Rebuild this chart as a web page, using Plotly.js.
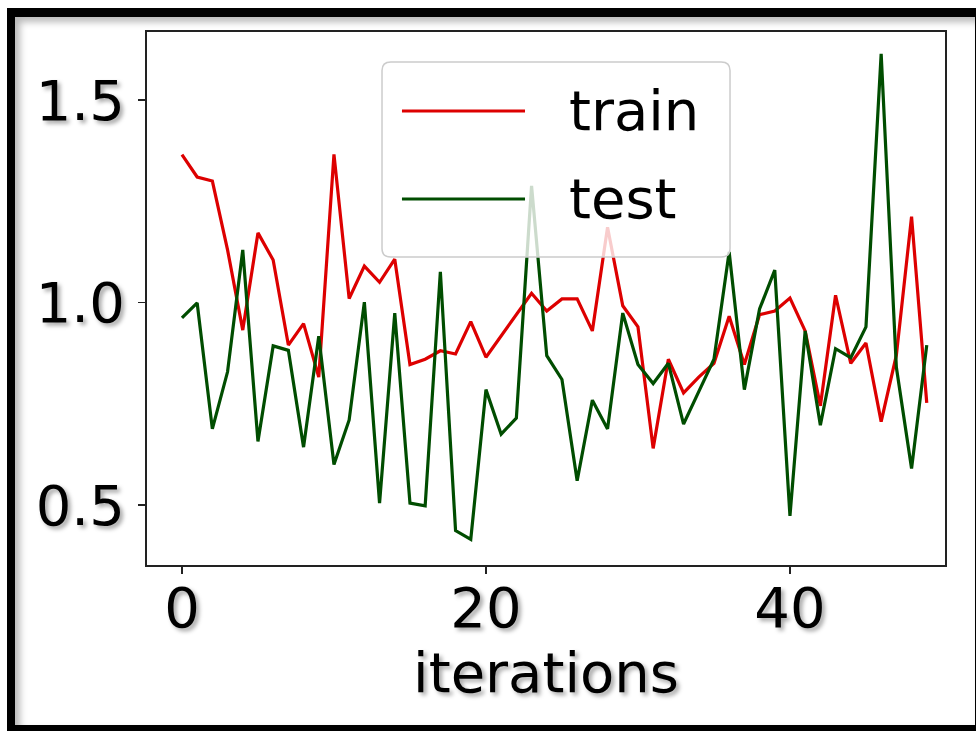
<!DOCTYPE html>
<html>
<head>
<meta charset="utf-8">
<script src="https://cdn.plot.ly/plotly-3.0.1.min.js"></script>
<style>
  html, body { margin: 0; padding: 0; background: #ffffff; }
  #chart { position: absolute; left: 0; top: 0; width: 976px; height: 731px; }
  #frame {
    position: absolute; left: 7px; top: 8px; width: 960px; height: 708px;
    border-style: solid; border-color: #000;
    border-width: 9px 9px 6px 8px;
    box-shadow: inset 5px 5px 7px rgba(0,0,0,0.28);
    pointer-events: none;
  }
</style>
</head>
<body>
<div id="chart"></div>
<div id="frame"></div>
<script>
const iterations = Array.from({length: 50}, (_, i) => i);
const trainLoss = [1.365, 1.31, 1.30, 1.13, 0.932, 1.172, 1.105, 0.895, 0.948, 0.816,
                   1.366, 1.01, 1.09, 1.05, 1.107, 0.847, 0.86, 0.881, 0.873, 0.953,
                   0.865, 0.918, 0.972, 1.023, 0.979, 1.009, 1.009, 0.93, 1.186, 0.992,
                   0.94, 0.64, 0.86, 0.777, 0.816, 0.85, 0.966, 0.847, 0.97, 0.979,
                   1.011, 0.93, 0.745, 1.018, 0.85, 0.90, 0.706, 0.87, 1.212, 0.752];
const testLoss = [0.962, 0.999, 0.688, 0.829, 1.13, 0.657, 0.893, 0.882, 0.643, 0.917,
                  0.60, 0.71, 1.001, 0.505, 0.974, 0.505, 0.498, 1.076, 0.437, 0.415,
                  0.785, 0.675, 0.715, 1.288, 0.869, 0.81, 0.56, 0.759, 0.688, 0.974,
                  0.847, 0.80, 0.85, 0.70, 0.78, 0.86, 1.125, 0.785, 0.984, 1.08,
                  0.473, 0.93, 0.697, 0.886, 0.864, 0.94, 1.614, 0.84, 0.59, 0.895];
const seriesNames = ['train', 'test'];
const seriesColors = ['#dd0000', '#004d00'];
const xTicks = [0, 20, 40];
const yTicks = [0.5, 1.0, 1.5];
const yTickLabels = ['0.5', '1.0', '1.5'];

const FONT = 'DejaVu Sans, sans-serif';
const SHADOW = '3px 3px 4px rgba(0,0,0,0.35)';

const traces = [
  {x: iterations, y: trainLoss, name: seriesNames[0], type: 'scatter', mode: 'lines',
   line: {color: seriesColors[0], width: 3.2}},
  {x: iterations, y: testLoss, name: seriesNames[1], type: 'scatter', mode: 'lines',
   line: {color: seriesColors[1], width: 3.2}}
];

// legend box (paper coordinates)
const bx0 = 0.2945, bx1 = 0.7306, by0 = 0.5779, by1 = 0.9437, rx = 0.011, ry = 0.016;
const boxPath = `M ${bx0+rx},${by0} L ${bx1-rx},${by0} Q ${bx1},${by0} ${bx1},${by0+ry} ` +
  `L ${bx1},${by1-ry} Q ${bx1},${by1} ${bx1-rx},${by1} L ${bx0+rx},${by1} ` +
  `Q ${bx0},${by1} ${bx0},${by1-ry} L ${bx0},${by0+ry} Q ${bx0},${by0} ${bx0+rx},${by0} Z`;
const legendY = [0.8518, 0.6867];

const shapes = [
  {type: 'path', xref: 'paper', yref: 'paper', path: boxPath, layer: 'above',
   fillcolor: 'rgba(255,255,255,0.8)', line: {color: '#cccccc', width: 1.5}}
];
const annotations = [];
seriesNames.forEach((nm, k) => {
  shapes.push({type: 'line', xref: 'paper', yref: 'paper', layer: 'above',
    x0: 0.3195, x1: 0.4737, y0: legendY[k], y1: legendY[k],
    line: {color: seriesColors[k], width: 3.2}});
  annotations.push({xref: 'paper', yref: 'paper', x: 0.526, y: legendY[k],
    xanchor: 'left', yanchor: 'middle', showarrow: false, text: nm,
    font: {family: FONT, size: 56, color: '#000'}});
});

const layout = {
  width: 976, height: 731,
  margin: {l: 147, r: 31, t: 32, b: 166},
  paper_bgcolor: 'rgba(0,0,0,0)', plot_bgcolor: '#ffffff',
  showlegend: false,
  xaxis: {
    range: [-2.3, 50.2], tickvals: xTicks, ticktext: xTicks.map(String),
    showgrid: false, zeroline: false,
    showline: true, mirror: true, linecolor: '#222', linewidth: 2,
    ticks: 'outside', ticklen: 7, tickwidth: 1.5, tickcolor: '#222',
    ticklabelstandoff: -14,
    tickfont: {family: FONT, size: 56, color: '#000', shadow: SHADOW},
    title: {text: 'iterations', standoff: 4,
            font: {family: FONT, size: 56, color: '#000', shadow: SHADOW}}
  },
  yaxis: {
    range: [0.352, 1.668], tickvals: yTicks, ticktext: yTickLabels,
    showgrid: false, zeroline: false,
    showline: true, mirror: true, linecolor: '#222', linewidth: 2,
    ticks: 'outside', ticklen: 7, tickwidth: 1.5, tickcolor: '#222',
    ticklabelstandoff: 2,
    tickfont: {family: FONT, size: 56, color: '#000', shadow: SHADOW}
  },
  shapes: shapes,
  annotations: annotations
};

Plotly.newPlot('chart', traces, layout, {displayModeBar: false, staticPlot: true});
</script>
</body>
</html>
